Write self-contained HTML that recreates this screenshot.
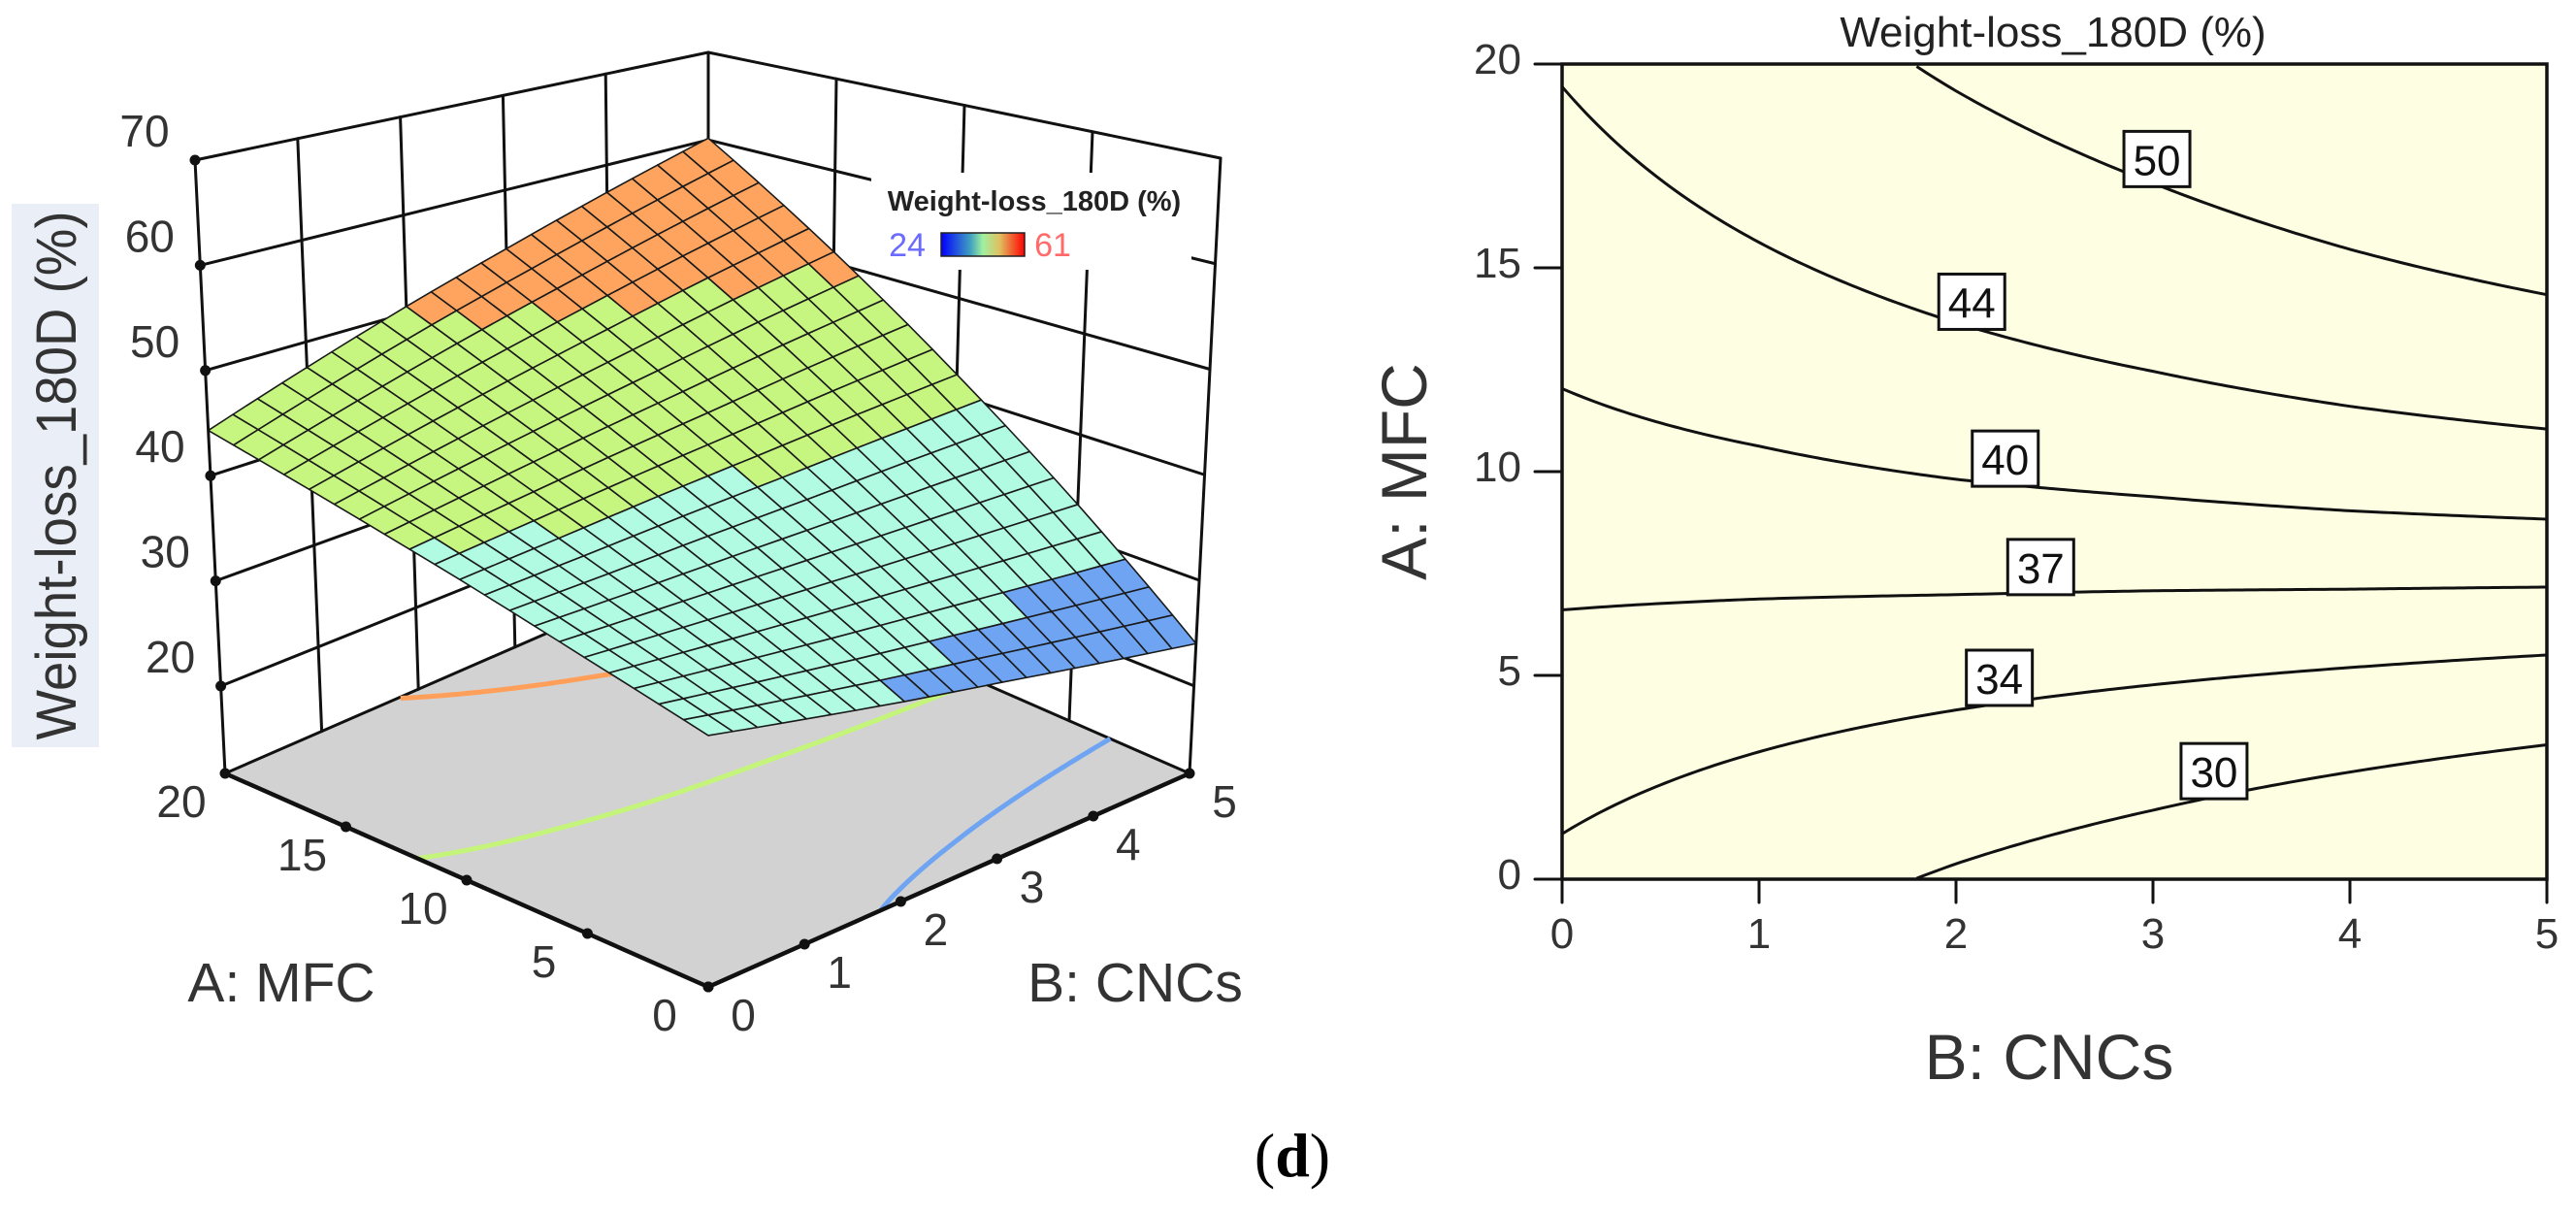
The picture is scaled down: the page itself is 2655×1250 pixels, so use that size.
<!DOCTYPE html>
<html><head><meta charset="utf-8">
<style>
html,body{margin:0;padding:0;background:#fff;}
svg{display:block;font-family:"Liberation Sans",sans-serif;}
</style></head>
<body>
<svg id="fig" width="2655" height="1250" viewBox="0 0 2655 1250" xmlns="http://www.w3.org/2000/svg">
<g id="left3d"></g>
<g id="right2d"></g>
<text x="1332" y="1212" font-family="Liberation Serif,serif" font-size="64" text-anchor="middle">(<tspan font-weight="bold">d</tspan>)</text>
</svg>
<script>
// ---- data ----
const mfcLevels = [0, 5, 10, 15, 20];          // A: MFC grid
const cncLevels = [0, 1, 2, 3, 4, 5];          // B: CNCs grid
const wl_A0  = [33.4, 31.5, 29.6, 27.8, 25.9, 24.0];
const wl_A5  = [36.1, 35.5, 34.9, 34.3, 33.7, 33.1];
const wl_A10 = [38.9, 39.5, 40.2, 40.8, 41.5, 42.1];
const wl_A15 = [41.6, 43.5, 45.4, 47.3, 49.3, 51.2];
const wl_A20 = [44.3, 47.5, 50.7, 53.8, 57.0, 60.2];
const contourLevels = [30, 34, 37, 40, 44, 50];
const contourLabelB = [3.31, 2.22, 2.43, 2.25, 2.08, 3.02];
const colorBands = [30, 40, 50];
const zTicks = [20, 30, 40, 50, 60, 70];
const aTicks = [0, 5, 10, 15, 20];
const bTicks = [0, 1, 2, 3, 4, 5];
const legendMin = 24, legendMax = 61;

const grid = [wl_A0, wl_A5, wl_A10, wl_A15, wl_A20];
const NS = "http://www.w3.org/2000/svg";
function mk(tag, attrs, parent, txt){
  const e = document.createElementNS(NS, tag);
  for (const k in attrs) e.setAttribute(k, attrs[k]);
  if (txt !== undefined) e.textContent = txt;
  parent.appendChild(e); return e;
}
function colVals(B){
  let j = Math.min(Math.floor(B), cncLevels.length - 2); const t = B - cncLevels[j];
  return grid.map(r => r[j] + (r[j+1] - r[j]) * t);
}
function f(A, B){
  const c = colVals(B);
  let i = Math.min(Math.floor(A / 5), mfcLevels.length - 2); const t = (A - mfcLevels[i]) / 5;
  return c[i] + (c[i+1] - c[i]) * t;
}
function solveA(level, B){
  const c = colVals(B);
  for (let i = 0; i < c.length - 1; i++){
    const a = c[i], b = c[i+1];
    if ((level - a) * (level - b) <= 0 && a !== b) return mfcLevels[i] + 5 * (level - a) / (b - a);
  }
  return null;
}
function contourPts(level){
  const pts = [];
  for (let k = 0; k <= 200; k++){ const B = 5 * k / 200; const A = solveA(level, B); if (A !== null) pts.push([A, B]); }
  return pts;
}

// ---------- 3D surface plot ----------
const g3 = document.getElementById('left3d');
const ZF = 11.7, ZT = 70;
const F00=[730,1017], F10=[232,797], F01=[1226,797], F11=[730,580];
const T00=[730,321],  T10=[201,165], T01=[1258,163], T11=[730,54];
function P(A, B, z){
  const u = A / 20, v = B / 5, w = (z - ZF) / (ZT - ZF);
  const bl = (p00,p10,p01,p11,k) => p00[k]*(1-u)*(1-v) + p10[k]*u*(1-v) + p01[k]*(1-u)*v + p11[k]*u*v;
  const fx = bl(F00,F10,F01,F11,0), fy = bl(F00,F10,F01,F11,1);
  const tx = bl(T00,T10,T01,T11,0), ty = bl(T00,T10,T01,T11,1);
  return [fx + (tx - fx) * w, fy + (ty - fy) * w];
}
function line(p, q, parent, stroke, sw, name){
  const l = mk('line', {x1:p[0], y1:p[1], x2:q[0], y2:q[1], stroke:stroke, 'stroke-width':sw, 'stroke-linecap':'round'}, parent);
  
  
  return l;
}
const ytb = mk('rect', {x:12, y:210, width:90, height:560, fill:'#e9eef7'}, g3);


const yt = mk('text', {x:0, y:0, 'font-size':58, fill:'#333', 'text-anchor':'middle', transform:'translate(78,490) rotate(-90)', textLength:545, lengthAdjust:'spacingAndGlyphs'}, g3, 'Weight-loss_180D (%)');



const floor = mk('polygon', {points:[P(0,0,ZF),P(20,0,ZF),P(20,5,ZF),P(0,5,ZF)].map(p=>p.join(',')).join(' '), fill:'#d2d2d2'}, g3);


const wallG = mk('g', {}, g3);


zTicks.forEach(z => {
  line(P(20,0,z), P(20,5,z), wallG, '#111', 3, 'wall-gridline-left');
  line(P(20,5,z), P(0,5,z), wallG, '#111', 3, 'wall-gridline-right');
});
line(P(20,0,ZF), P(20,5,ZF), wallG, '#111', 3, 'floor-back-edge-left');
line(P(20,5,ZF), P(0,5,ZF), wallG, '#111', 3, 'floor-back-edge-right');
[1,2,3,4].forEach(b => line(P(20,b,ZF), P(20,b,ZT), wallG, '#111', 3, 'wall-vertical-left'));
[5,10,15].forEach(a => line(P(a,5,ZF), P(a,5,ZT), wallG, '#111', 3, 'wall-vertical-right'));
line(P(20,5,ZF), P(20,5,ZT), wallG, '#111', 3, 'back-vertical-edge');

const floorColors = {30:'#6ea4f2', 40:'#c4f57a', 50:'#ff9f5a'};
colorBands.forEach(lv => {
  const pts = contourPts(lv).map(([A,B]) => P(A,B,ZF));
  const pl = mk('polyline', {points:pts.map(p=>p.join(',')).join(' '), fill:'none', stroke:floorColors[lv], 'stroke-width':5}, g3);
  
  
});

const N = 20;
const surf = mk('g', {stroke:'#1a1a1a', 'stroke-width':1.6, 'stroke-linejoin':'round'}, g3);


function bandColor(v){ if (v < colorBands[0]) return '#6ea4f2'; if (v < colorBands[1]) return '#b1fbe3'; if (v < colorBands[2]) return '#c6f680'; return '#ffa45e'; }
for (let i = N-1; i >= 0; i--){
  for (let j = 0; j < N; j++){
    const a0 = 20*i/N, a1 = 20*(i+1)/N, b0 = 5*j/N, b1 = 5*(j+1)/N;
    const pts = [[a0,b0],[a1,b0],[a1,b1],[a0,b1]].map(([A,B]) => P(A,B,f(A,B)));
    const c = f((a0+a1)/2, (b0+b1)/2);
    const cell = mk('polygon', {points:pts.map(p=>p.join(',')).join(' '), fill:bandColor(c)}, surf);
    
    
  }
}
line(P(20,0,ZF), P(20,0,ZT), g3, '#111', 3, 'left-vertical-edge');
line(P(0,5,ZF), P(0,5,ZT), g3, '#111', 3, 'right-vertical-edge');
line(P(20,0,ZF), P(0,0,ZF), g3, '#111', 4.5, 'a-axis-line');
line(P(0,0,ZF), P(0,5,ZF), g3, '#111', 4.5, 'b-axis-line');
function dot(p, name){ const c = mk('circle', {cx:p[0], cy:p[1], r:5.5, fill:'#111'}, g3);
  
   }
zTicks.forEach(z => {
  const p = P(20,0,z); dot(p, 'z-tick');
  const t = mk('text', {x:p[0]-52, y:p[1]-14, 'font-size':46, fill:'#333', 'text-anchor':'middle'}, g3, String(z));
  
  
});
aTicks.forEach(a => {
  const p = P(a,0,ZF); dot(p, 'a-tick');
  const t = mk('text', {x:p[0]-45, y:p[1]+45, 'font-size':46, fill:'#333', 'text-anchor':'middle'}, g3, String(a));
  
  
});
bTicks.forEach(b => {
  const p = P(0,b,ZF); dot(p, 'b-tick');
  const t = mk('text', {x:p[0]+36, y:p[1]+45, 'font-size':46, fill:'#333', 'text-anchor':'middle'}, g3, String(b));
  
  
});
const at = mk('text', {x:290, y:1032, 'font-size':57, fill:'#333', 'text-anchor':'middle'}, g3, 'A: MFC');


const bt = mk('text', {x:1170, y:1032, 'font-size':57, fill:'#333', 'text-anchor':'middle'}, g3, 'B: CNCs');



const lg = mk('g', {}, g3);


mk('rect', {x:898, y:178, width:330, height:100, fill:'#fff'}, lg);
const lt = mk('text', {x:1066, y:217, 'font-size':29, 'font-weight':'bold', fill:'#222', 'text-anchor':'middle'}, lg, 'Weight-loss_180D (%)');


const defs = mk('defs', {}, lg);
const grad = mk('linearGradient', {id:'cb', x1:0, x2:1, y1:0, y2:0}, defs);
[['0','#0000ff'],['0.35','#40a0c0'],['0.5','#a0f0a0'],['0.7','#e0c060'],['1','#ff0000']].forEach(s => mk('stop', {offset:s[0], 'stop-color':s[1]}, grad));
const cb = mk('rect', {x:970, y:240, width:86, height:24, fill:'url(#cb)', stroke:'#222', 'stroke-width':1.5}, lg);


const lmin = mk('text', {x:935, y:264, 'font-size':34, fill:'#6a6aff', 'text-anchor':'middle'}, lg, String(legendMin));


const lmax = mk('text', {x:1085, y:264, 'font-size':34, fill:'#ff6a6a', 'text-anchor':'middle'}, lg, String(legendMax));



// ---------- contour plot ----------
const g2 = document.getElementById('right2d');
const X0 = 1610, X1 = 2625, Y0 = 906, Y1 = 66;
const xS = B => X0 + (X1 - X0) * B / 5;
const yS = A => Y0 + (Y1 - Y0) * A / 20;
const bg = mk('rect', {x:X0, y:Y1, width:X1-X0, height:Y0-Y1, fill:'#fefee3'}, g2);


contourLevels.forEach(lv => {
  const pts = contourPts(lv).map(([A,B]) => [xS(B), yS(A)]);
  const pl = mk('polyline', {points:pts.map(p=>p.join(',')).join(' '), fill:'none', stroke:'#111', 'stroke-width':3}, g2);
  
  
});
const border = mk('rect', {x:X0, y:Y1, width:X1-X0, height:Y0-Y1, fill:'none', stroke:'#111', 'stroke-width':3.5}, g2);


contourLevels.forEach((lv, k) => {
  const B = contourLabelB[k]; const A = solveA(lv, B);
  if (A === null) return;
  const cx = xS(B), cy = yS(A) - 26;
  const r = mk('rect', {x:cx-34, y:cy-29, width:68, height:57, fill:'#fff', stroke:'#111', 'stroke-width':3}, g2);
  
  
  const t = mk('text', {x:cx, y:cy+16, 'font-size':44, fill:'#111', 'text-anchor':'middle'}, g2, String(lv));
  
  
});
bTicks.forEach(b => {
  line([xS(b), Y0], [xS(b), Y0+24], g2, '#111', 3, 'x-tick');
  const t = mk('text', {x:xS(b), y:977, 'font-size':44, fill:'#333', 'text-anchor':'middle'}, g2, String(b));
  
  
});
aTicks.forEach(a => {
  line([X0-28, yS(a)], [X0, yS(a)], g2, '#111', 3, 'y-tick');
  const t = mk('text', {x:1568, y:yS(a)+10, 'font-size':44, fill:'#333', 'text-anchor':'end'}, g2, String(a));
  
  
});
const xt = mk('text', {x:2112, y:1112, 'font-size':66, fill:'#333', 'text-anchor':'middle'}, g2, 'B: CNCs');


const yt2 = mk('text', {x:0, y:0, 'font-size':66, fill:'#333', 'text-anchor':'middle', transform:'translate(1470,486) rotate(-90)'}, g2, 'A: MFC');


const ct = mk('text', {x:2116, y:48, 'font-size':44, fill:'#222', 'text-anchor':'middle'}, g2, 'Weight-loss_180D (%)');


</script>
</body></html>
